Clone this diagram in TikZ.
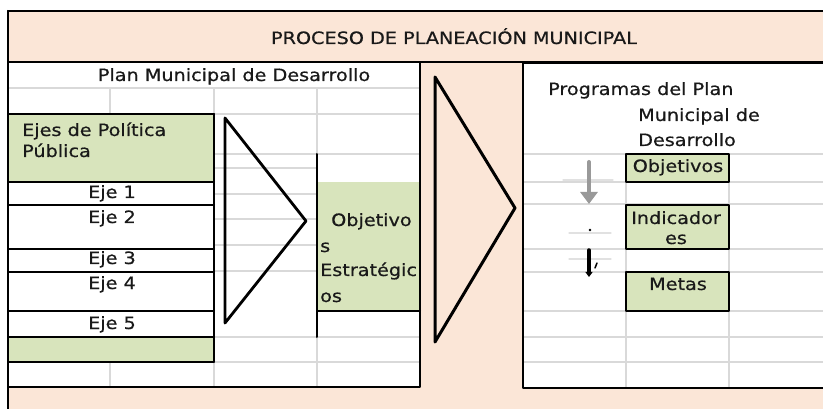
\documentclass[tikz,border=0pt]{standalone}
\usepackage{fontspec}
\setmainfont[FakeStretch=1.13,FakeBold=0.6]{DejaVu Sans}
\usetikzlibrary{arrows,arrows.meta,positioning}
\definecolor{fondo}{HTML}{FBE6D7}
\definecolor{verde}{HTML}{D8E4BC}
\definecolor{rejilla}{HTML}{D9D9D9}
\tikzset{
  celda/.style={line width=1.2pt,color=rejilla},
  borde/.style={line width=2pt,color=black},
  rotulo/.style={font=\fontsize{17}{24}\selectfont,text=black!90,inner sep=0pt,anchor=base},
  rotulo izq/.style={rotulo,anchor=base west}
}
\begin{document}
\begin{tikzpicture}[line cap=round,line join=round,>=triangle 45,x=1pt,y=-1pt]
    \useasboundingbox (0,0) rectangle (823,409);
    \begin{scope}
        \clip (0,0) rectangle (823,409);
        % fondo general
        \fill [fondo] (8,11) rectangle (840,420);
        \draw [borde] (8,11) -- (840,11);
        \draw [borde] (8,11) -- (8,420);
        \draw [borde] (8,62) -- (840,62);
        % paneles
        \fill [white] (8,62) rectangle (420,387);
        \fill [white] (523,63) rectangle (840,388);
        \fill [verde] (8,114) rectangle (214,182);
        \fill [verde] (8,337) rectangle (214,362);
        \fill [verde] (317,182) rectangle (420,311);
        \fill [verde] (626,154) rectangle (729,182);
        \fill [verde] (626,205) rectangle (729,249);
        \fill [verde] (626,272) rectangle (729,311);
        % rejilla izquierda
        \draw [celda] (8,88) -- (420,88);
        \draw [celda] (214,114) -- (420,114);
        \draw [celda] (214,154) -- (420,154);
        \foreach \y in {168,194,219,245,271}
            \draw [celda] (214,\y) -- (317,\y);
        \draw [celda] (214,337) -- (420,337);
        \draw [celda] (214,362) -- (420,362);
        \draw [celda] (110,88) -- (110,114);
        \draw [celda] (110,362) -- (110,387);
        \draw [celda] (214,88) -- (214,114);
        \draw [celda] (214,362) -- (214,387);
        \draw [celda] (317,88) -- (317,154);
        \draw [celda] (317,337) -- (317,387);
        % rejilla derecha
        \foreach \y in {154,182,204,249,272,311,337,362}
            \draw [celda] (523,\y) -- (840,\y);
        \draw [celda] (626,154) -- (626,388);
        \draw [celda] (729,154) -- (729,388);
        % bordes negros
        \draw [borde] (8,62) rectangle (420,387);
        \foreach \y in {114,182,205,249,272,311,337,362}
            \draw [borde] (8,\y) -- (214,\y);
        \draw [borde] (214,114) -- (214,362);
        \draw [borde] (317,154) -- (317,337);
        \draw [borde] (317,311) -- (420,311);
        \draw [borde] (523,63) rectangle (840,388);
        \draw [borde] (626,154) rectangle (729,182);
        \draw [borde] (626,205) rectangle (729,249);
        \draw [borde] (626,272) rectangle (729,311);
        % flechas grandes
        \draw [line width=2.8pt] (225,118) -- (306,221) -- (225,323) -- cycle;
        \draw [line width=3pt] (435,77) -- (515,208) -- (435,342) -- cycle;
        % flechas pequenas
        \draw [celda,color=rejilla!80] (563,180) -- (613,180);
        \draw [celda,color=rejilla!80] (569,233) -- (611,233);
        \draw [celda,color=rejilla!80] (569,259) -- (611,259);
        \coordinate (f1a) at (589,162);
        \coordinate (f1b) at (589,204);
        \coordinate (f2a) at (589,250);
        \coordinate (f2b) at (589,277);
        \draw [-{Triangle[width=17pt,length=12pt]},line width=4pt,color=gray!80] (f1a) -- (f1b);
        \fill (590,230) circle (1.3pt);
        \draw [-{Triangle[width=7pt,length=5pt]},line width=3.5pt] (f2a) -- (f2b);
        \draw [line width=1.5pt] (597,263) -- (595,268);
    \end{scope}
    % textos
    \node [rotulo] (titulo) at (454,44) {PROCESO DE PLANEACIÓN MUNICIPAL};
    \node [rotulo] (pmd) at (234,81) {Plan Municipal de Desarrollo};
    \node [rotulo izq] (ejes1) at (22,136) {Ejes de Política};
    \node [rotulo izq] (ejes2) at (22,157) {Pública};
    \node [rotulo] (eje1) at (112,198) {Eje 1};
    \node [rotulo] (eje2) at (112,223) {Eje 2};
    \node [rotulo] (eje3) at (112,264) {Eje 3};
    \node [rotulo] (eje4) at (112,289) {Eje 4};
    \node [rotulo] (eje5) at (112,329) {Eje 5};
    \node [rotulo izq] (obj1) at (331,226) {Objetivo};
    \node [rotulo izq] (obj2) at (320,252) {s};
    \node [rotulo izq] (obj3) at (320,276) {Estratégic};
    \node [rotulo izq] (obj4) at (320,302) {os};
    \node [rotulo izq] (prog1) at (548,95) {Programas del Plan};
    \node [rotulo izq] (prog2) at (638,121) {Municipal de};
    \node [rotulo izq] (prog3) at (638,146) {Desarrollo};
    \node [rotulo] (objetivos) at (678,172) {Objetivos};
    \node [rotulo] (ind1) at (676,224) {Indicador};
    \node [rotulo] (ind2) at (676,244) {es};
    \node [rotulo] (metas) at (678,290) {Metas};
\end{tikzpicture}
\end{document}
